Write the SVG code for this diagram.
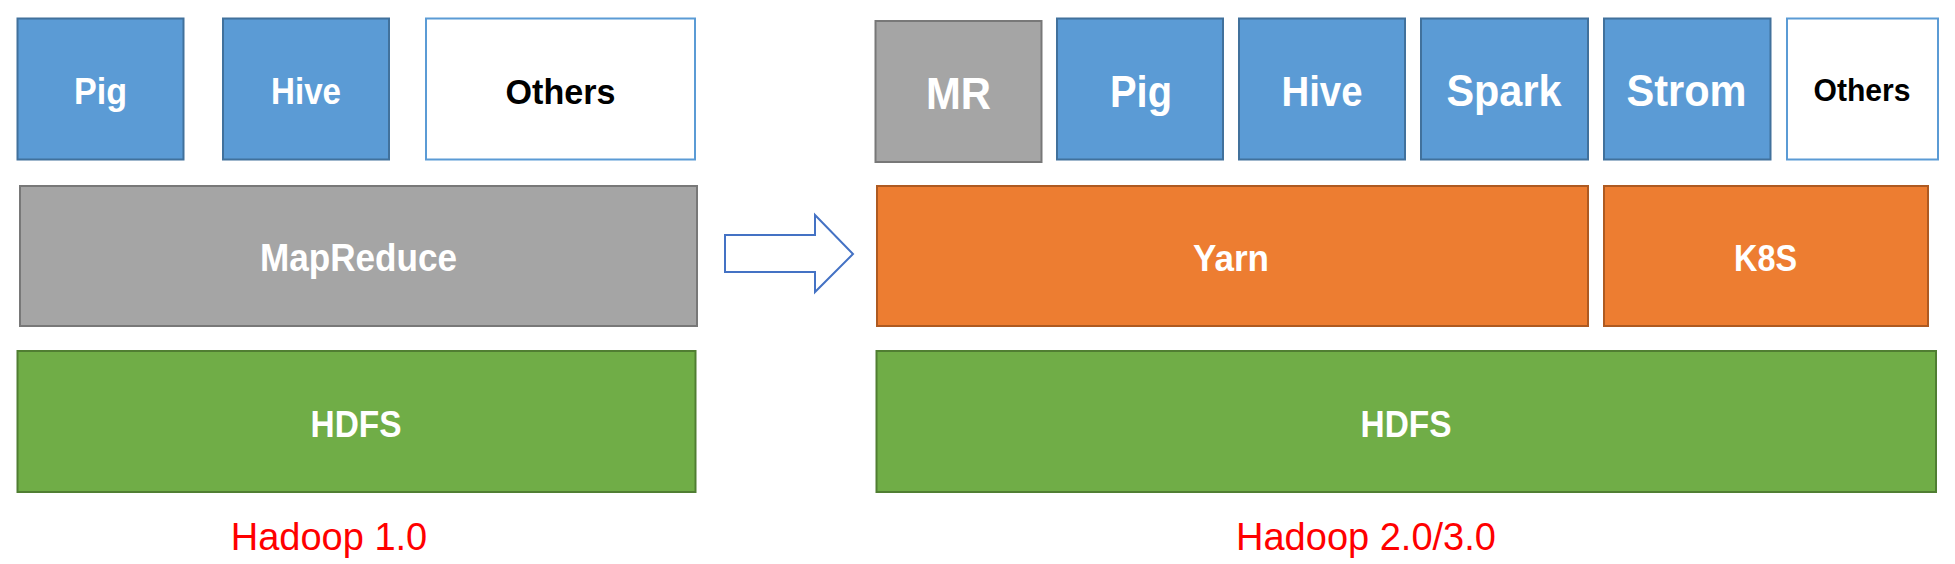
<svg xmlns="http://www.w3.org/2000/svg" width="1955" height="564" viewBox="0 0 1955 564">
<style>
.blue{fill:#5B9BD5;stroke:#41719C;stroke-width:2}
.gray{fill:#A5A5A5;stroke:#787878;stroke-width:2}
.orange{fill:#ED7D31;stroke:#AE5A21;stroke-width:2}
.green{fill:#70AD47;stroke:#507E32;stroke-width:2}
.other{fill:#FFFFFF;stroke:#5B9BD5;stroke-width:2}
.t{font-family:"Liberation Sans",Arial,sans-serif;font-weight:bold;text-anchor:middle;fill:#FFFFFF}
.k{fill:#000000}
.cap{font-family:"Liberation Sans",Arial,sans-serif;font-size:38px;text-anchor:middle;fill:#FF0000}
</style>
<rect width="1955" height="564" fill="#FFFFFF"/>
<g id="v1-pig"><rect class="blue" x="17.5" y="18.5" width="166" height="141"/><text class="t" x="100.5" y="104" font-size="37" textLength="53" lengthAdjust="spacingAndGlyphs">Pig</text></g>
<g id="v1-hive"><rect class="blue" x="223" y="18.5" width="166" height="141"/><text class="t" x="306" y="104" font-size="37" textLength="70" lengthAdjust="spacingAndGlyphs">Hive</text></g>
<g id="v1-others"><rect class="other" x="426" y="18.5" width="269" height="141"/><text class="t k" x="560.5" y="104" font-size="35" textLength="110" lengthAdjust="spacingAndGlyphs">Others</text></g>
<g id="v1-mapreduce"><rect class="gray" x="20" y="186" width="677" height="140"/><text class="t" x="358.5" y="270.5" font-size="38" textLength="197" lengthAdjust="spacingAndGlyphs">MapReduce</text></g>
<g id="v1-hdfs"><rect class="green" x="17.5" y="351" width="678" height="141"/><text class="t" x="356" y="437" font-size="37" textLength="91" lengthAdjust="spacingAndGlyphs">HDFS</text></g>
<text id="v1-label" class="cap" x="329" y="550">Hadoop 1.0</text>

<g id="connectors"><polygon points="725,235 815,235 815,215 853,254 815,292 815,272 725,272" fill="#FFFFFF" stroke="#4472C4" stroke-width="2"/></g>

<g id="v2-mr"><rect class="gray" x="875.5" y="21" width="166" height="141"/><text class="t" x="958.5" y="109" font-size="44" textLength="65" lengthAdjust="spacingAndGlyphs">MR</text></g>
<g id="v2-pig"><rect class="blue" x="1057" y="18.5" width="166" height="141"/><text class="t" x="1141" y="107" font-size="44" textLength="62" lengthAdjust="spacingAndGlyphs">Pig</text></g>
<g id="v2-hive"><rect class="blue" x="1239" y="18.5" width="166" height="141"/><text class="t" x="1322" y="106" font-size="43" textLength="81" lengthAdjust="spacingAndGlyphs">Hive</text></g>
<g id="v2-spark"><rect class="blue" x="1421" y="18.5" width="167" height="141"/><text class="t" x="1504" y="106" font-size="44" textLength="115" lengthAdjust="spacingAndGlyphs">Spark</text></g>
<g id="v2-strom"><rect class="blue" x="1604" y="18.5" width="166.5" height="141"/><text class="t" x="1686.5" y="106" font-size="44" textLength="120" lengthAdjust="spacingAndGlyphs">Strom</text></g>
<g id="v2-others"><rect class="other" x="1787" y="18.5" width="151" height="141"/><text class="t k" x="1862" y="101" font-size="32" textLength="97" lengthAdjust="spacingAndGlyphs">Others</text></g>
<g id="v2-yarn"><rect class="orange" x="877" y="186" width="711" height="140"/><text class="t" x="1231" y="270.5" font-size="37" textLength="76" lengthAdjust="spacingAndGlyphs">Yarn</text></g>
<g id="v2-k8s"><rect class="orange" x="1604" y="186" width="324" height="140"/><text class="t" x="1765.5" y="270.5" font-size="36" textLength="63" lengthAdjust="spacingAndGlyphs">K8S</text></g>
<g id="v2-hdfs"><rect class="green" x="876.5" y="351" width="1059.5" height="141"/><text class="t" x="1406" y="437" font-size="37" textLength="91" lengthAdjust="spacingAndGlyphs">HDFS</text></g>
<text id="v2-label" class="cap" x="1366" y="550">Hadoop 2.0/3.0</text>
</svg>
